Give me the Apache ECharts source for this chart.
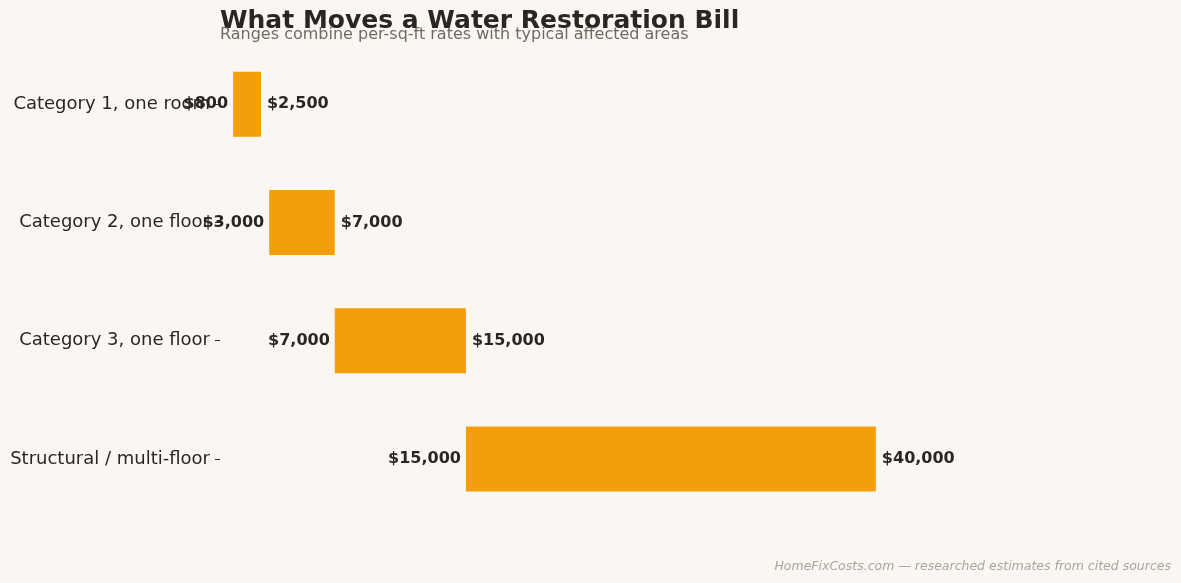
<!DOCTYPE html>
<html>
<head>
<meta charset="utf-8">
<script src="https://cdn.jsdelivr.net/npm/echarts@6/dist/echarts.min.js"></script>
<style>
  html, body { margin: 0; padding: 0; background: #faf7f2; }
  #main { width: 1181px; height: 583px; }
</style>
</head>
<body>
<div id="main"></div>
<script>
// 数据
const categories = ["Category 1, one room", "Category 2, one floor", "Category 3, one floor", "Structural / multi-floor"];
const lowValues = [800, 3000, 7000, 15000];
const highValues = [2500, 7000, 15000, 40000];

const money = v => "$" + v.toLocaleString("en-US");
const textColor = "#2b2622";
const font = "'DejaVu Sans'";

const myChart = echarts.init(document.getElementById("main"));

const option = {
  backgroundColor: "#faf7f2",
  textStyle: { fontFamily: font },
  title: [
    {
      text: "What Moves a Water Restoration Bill",
      left: 220,
      top: 9,
      padding: 0,
      textStyle: { fontFamily: font, fontSize: 25, fontWeight: "bold", color: textColor }
    },
    {
      text: "Ranges combine per-sq-ft rates with typical affected areas",
      left: 220,
      top: 27,
      padding: 0,
      textStyle: { fontFamily: font, fontSize: 16, fontWeight: "normal", color: "#6f6a64" }
    },
    {
      text: "HomeFixCosts.com — researched estimates from cited sources",
      right: 10,
      bottom: 10,
      padding: 0,
      textStyle: { fontFamily: font, fontSize: 12.5, fontStyle: "italic", fontWeight: "normal", color: "#aaa49d" }
    }
  ],
  grid: { left: 220, right: 10, top: 45, bottom: 65 },
  xAxis: {
    type: "value",
    min: 0,
    max: 58000,
    show: false
  },
  yAxis: {
    type: "category",
    data: categories,
    inverse: true,
    axisLine: { show: false },
    axisTick: { show: true, alignWithLabel: true, length: 5, lineStyle: { color: textColor } },
    axisLabel: { fontFamily: font, fontSize: 18, color: textColor, margin: 10, padding: [4, 0, 0, 0] }
  },
  series: [
    {
      // 透明底座，显示起点价格
      type: "bar",
      stack: "range",
      data: lowValues,
      barWidth: 65,
      itemStyle: { color: "transparent" },
      label: {
        show: true,
        position: "insideRight",
        distance: 5,
        formatter: p => money(p.value),
        fontFamily: font,
        fontSize: 16,
        fontWeight: "bold",
        color: textColor
      },
      silent: true
    },
    {
      type: "bar",
      stack: "range",
      data: highValues.map((h, i) => h - lowValues[i]),
      barWidth: 65,
      itemStyle: { color: "#f49e0d" },
      label: {
        show: true,
        position: "right",
        distance: 6,
        formatter: p => money(highValues[p.dataIndex]),
        fontFamily: font,
        fontSize: 16,
        fontWeight: "bold",
        color: textColor
      }
    }
  ]
};

myChart.setOption(option);
</script>
</body>
</html>
